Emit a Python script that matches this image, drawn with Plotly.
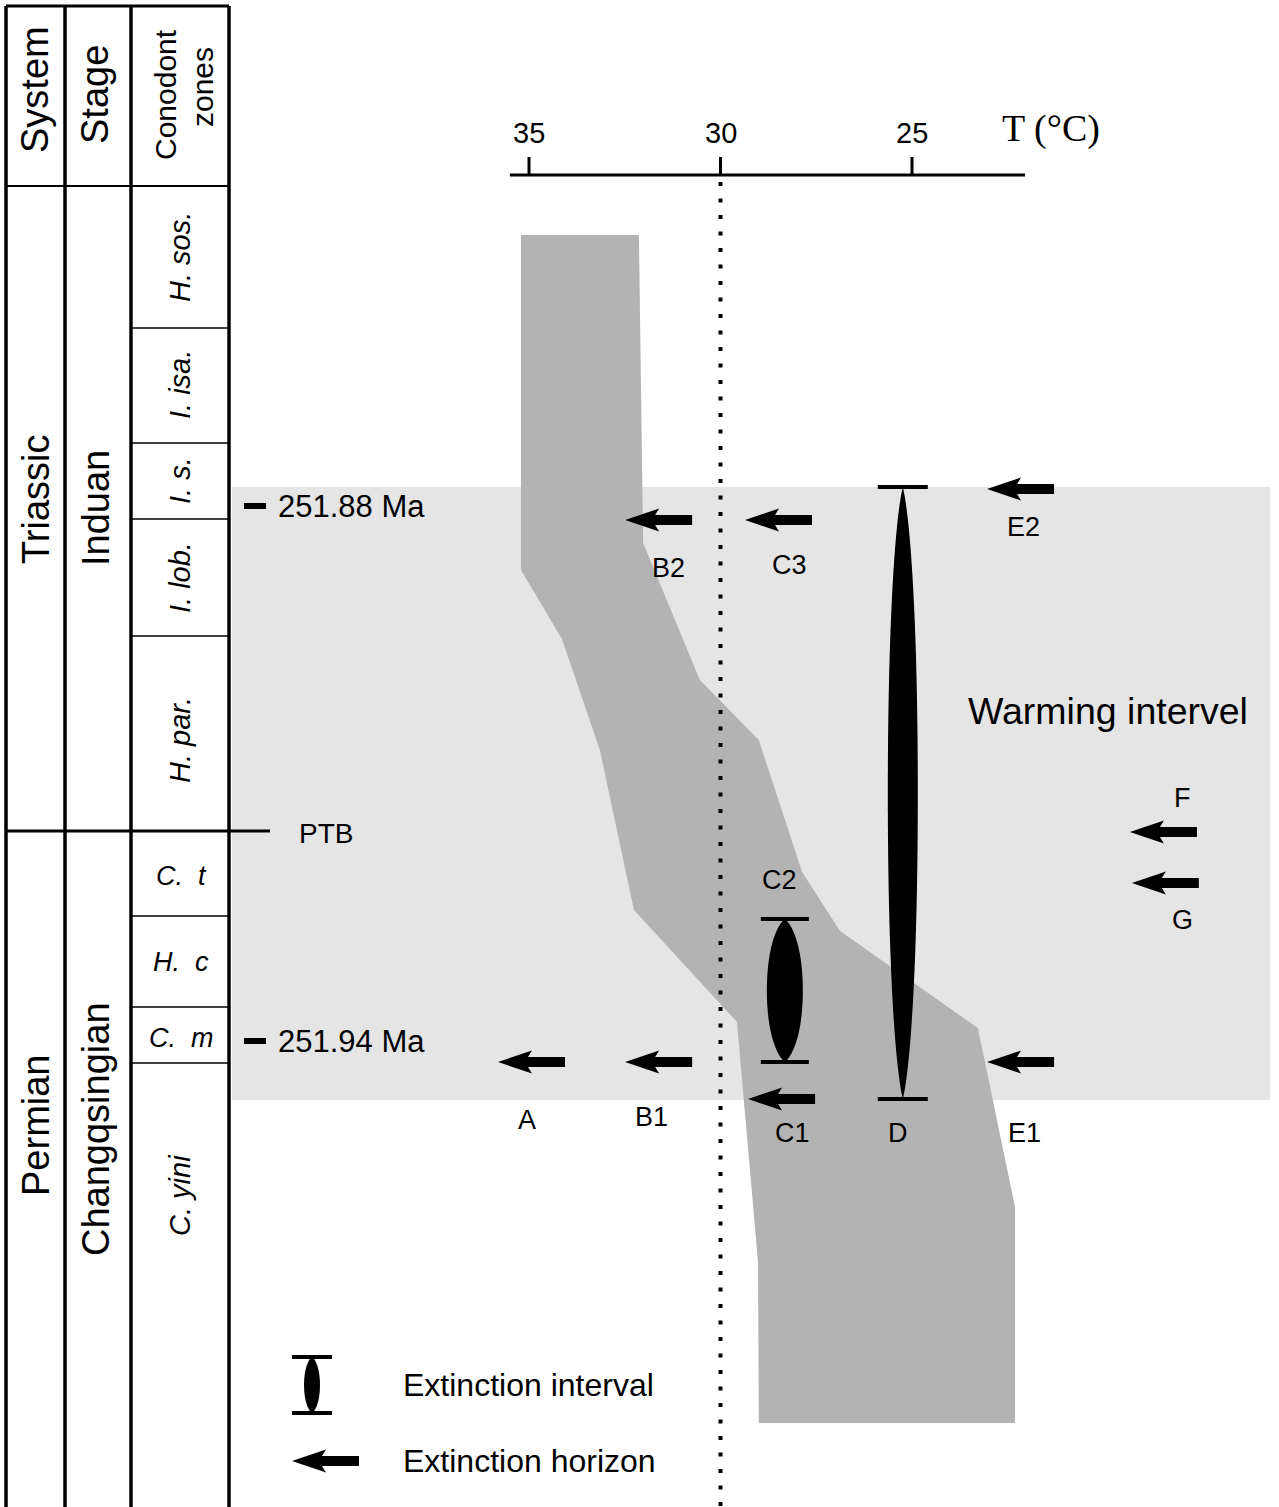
import plotly.graph_objects as go

# ---------------- DATA ----------------
# Temperature scale (deg C), drawn as a reversed axis
temp_ticks = [35, 30, 25]
temp_tick_labels = ["35", "30", "25"]
temp_axis_extent = [35.5, 22.05]
temp_axis_level = 175
reference_temp = 30  # dotted 30 degC line

# Palaeotemperature envelope outline (temperature vs stratigraphic level; level grows downward)
band_temp = [35.21, 32.13, 32.02, 30.54, 29.00, 27.87, 26.88, 25.65, 23.28, 22.31,
             22.31, 29.00, 29.02, 29.57, 32.26, 33.15, 34.14, 35.21, 35.21]
band_level = [235, 235, 543, 680, 740, 872, 931, 964, 1028, 1207,
              1423, 1423, 1262, 1022, 910, 750, 639, 570, 235]

# Extinction horizons (arrows)
horizon_names = ["A", "B1", "C1", "B2", "C3", "E2", "E1", "F", "G"]
horizon_temp = [35.81, 32.49, 29.28, 32.49, 29.36, 23.04, 23.04, 19.31, 19.26]
horizon_level = [1062, 1062, 1099, 520, 520, 489, 1062, 832, 883]
horizon_label_temp = [35.05, 31.79, 28.13, 31.37, 28.19, 22.10, 22.05, 17.95, 17.95]
horizon_label_level = [1120, 1117, 1133, 568, 565, 527, 1133, 798, 920]

# Extinction intervals (lens symbols)
interval_names = ["C2", "D"]
interval_temp = [28.32, 25.24]
interval_top = [919, 487]
interval_bottom = [1062, 1099]
interval_label_temp = [28.45, 25.37]
interval_label_level = [880, 1133]

# Warming interval
warming_top = 487
warming_bottom = 1100
warming_label = "Warming intervel"
warming_label_level = 711

# Stratigraphic column (column positions on a 0-1279 scale)
col_edges = [6, 65, 131, 229]
table_top = 6
header_bottom = 186
column_bottom = 1507
system_names = ["Triassic", "Permian"]
system_label_level = [500, 1125]
stage_names = ["Induan", "Changqsingian"]
stage_label_level = [508, 1129]
zone_names = ["H. sos.", "I. isa.", "I. s.", "I. lob.", "H. par.", "C. t", "H. c", "C. m", "C. yini"]
zone_bounds = [328, 443, 519, 636, 916, 1007, 1063]
zone_label_level = [257, 385, 481, 578, 740, 876, 962, 1038, 1195]
zone_rotated = [True, True, True, True, True, False, False, False, True]
ptb_level = 831
age_labels = ["251.88 Ma", "251.94 Ma"]
age_level = [506, 1041]

# Legend
legend_items = ["Extinction interval", "Extinction horizon"]
legend_level = [1385, 1461]

# ---------------- FIGURE ----------------
PX_PER_DEG = 38.3
T_LEFT = 30 + 720.5 / PX_PER_DEG
T_RIGHT = 30 - (1279 - 720.5) / PX_PER_DEG

SANS = "Liberation Sans, Arial, sans-serif"
SERIF = "Liberation Serif, Times New Roman, serif"
BAND_GREY = "#b3b3b3"
LIGHT_GREY = "#e5e5e5"

fig = go.Figure()

# envelope
fig.add_trace(go.Scatter(x=band_temp, y=band_level, mode="lines", fill="toself",
                         fillcolor=BAND_GREY, line=dict(width=0, color=BAND_GREY),
                         hoverinfo="skip"))
# 30 degC dotted reference
fig.add_trace(go.Scatter(x=[reference_temp, reference_temp], y=[temp_axis_level + 7, column_bottom],
                         mode="lines", line=dict(color="black", width=4, dash="4px,12.5px"),
                         hoverinfo="skip"))
# temperature axis line and ticks
ax_x = [temp_axis_extent[0], temp_axis_extent[1]]
ax_y = [temp_axis_level, temp_axis_level]
for t in temp_ticks:
    ax_x += [None, t, t]
    ax_y += [None, temp_axis_level, temp_axis_level - 18]
fig.add_trace(go.Scatter(x=ax_x, y=ax_y, mode="lines", line=dict(color="black", width=3),
                         hoverinfo="skip"))

# stratigraphic column grid (on x2)
vx, vy = [], []
for c in col_edges:
    vx += [c, c, None]
    vy += [table_top, column_bottom, None]
fig.add_trace(go.Scatter(x=vx, y=vy, xaxis="x2", mode="lines",
                         line=dict(color="black", width=3.5), hoverinfo="skip"))
fig.add_trace(go.Scatter(x=[col_edges[0], col_edges[-1], None, col_edges[0], 270],
                         y=[table_top, table_top, None, ptb_level, ptb_level],
                         xaxis="x2", mode="lines", line=dict(color="black", width=3),
                         hoverinfo="skip"))
fig.add_trace(go.Scatter(x=[col_edges[0], col_edges[-1]], y=[header_bottom, header_bottom],
                         xaxis="x2", mode="lines", line=dict(color="black", width=2),
                         hoverinfo="skip"))
zx, zy = [], []
for b in zone_bounds:
    zx += [col_edges[2], col_edges[3], None]
    zy += [b, b, None]
fig.add_trace(go.Scatter(x=zx, y=zy, xaxis="x2", mode="lines",
                         line=dict(color="black", width=1.5), hoverinfo="skip"))
# age ticks
axx, axy = [], []
for lv in age_level:
    axx += [244, 266, None]
    axy += [lv, lv, None]
fig.add_trace(go.Scatter(x=axx, y=axy, xaxis="x2", mode="lines",
                         line=dict(color="black", width=6), hoverinfo="skip"))

shapes = []
# warming interval background
shapes.append(dict(type="rect", xref="x2", yref="y", x0=232, x1=1270,
                   y0=warming_top, y1=warming_bottom, fillcolor=LIGHT_GREY,
                   line=dict(width=0), layer="below"))

ARROW = "M0,0 L34,-11.5 L30,-5 L67,-5 L67,5 L30,5 L34,11.5 Z"


def arrow(xref, xanchor, yanchor):
    return dict(type="path", xref=xref, yref="y", xsizemode="pixel", ysizemode="pixel",
                xanchor=xanchor, yanchor=yanchor, path=ARROW, fillcolor="black",
                line=dict(width=0), layer="above")


def lens(xref, xanchor, top, bot, w, bar):
    H = bot - top
    k1 = 0.05 * H
    k2 = 0.22 * H
    mid = (top + bot) / 2
    p = (f"M0,{top} C{0.5*w},{top+k1} {w},{top+k2} {w},{mid} "
         f"C{w},{bot-k2} {0.5*w},{bot-k1} 0,{bot} "
         f"C{-0.5*w},{bot-k1} {-w},{bot-k2} {-w},{mid} "
         f"C{-w},{top+k2} {-0.5*w},{top+k1} 0,{top} Z")
    out = [dict(type="path", xref=xref, yref="y", xsizemode="pixel", xanchor=xanchor,
                path=p, fillcolor="black", line=dict(width=0), layer="above")]
    for lv in (top, bot):
        out.append(dict(type="line", xref=xref, yref="y", xsizemode="pixel", xanchor=xanchor,
                        x0=-bar, x1=bar, y0=lv, y1=lv, line=dict(color="black", width=4),
                        layer="above"))
    return out


for t, lv in zip(horizon_temp, horizon_level):
    shapes.append(arrow("x", t, lv))
lens_w = [18, 15]
bar_w = [24, 25]
for t, tp, bt, w, b in zip(interval_temp, interval_top, interval_bottom, lens_w, bar_w):
    shapes += lens("x", t, tp, bt, w, b)
# legend symbols
shapes += lens("x2", 312, 1357, 1413, 8, 20)
shapes.append(arrow("x2", 292, legend_level[1]))

ann = []


def txt(x, y, s, size, xref="x", family=SANS, angle=0, xanchor="center"):
    ann.append(dict(x=x, y=y, xref=xref, yref="y", text=s, showarrow=False,
                    textangle=angle, xanchor=xanchor, yanchor="middle",
                    font=dict(family=family, size=size, color="black")))


for t, s in zip(temp_ticks, temp_tick_labels):
    txt(t, 133, s, 29)
txt(1000, 128, "T (°C)", 38, xref="x2", family=SERIF, xanchor="left")

for n, t, lv in zip(horizon_names, horizon_label_temp, horizon_label_level):
    txt(t, lv, n, 27)
for n, t, lv in zip(interval_names, interval_label_temp, interval_label_level):
    txt(t, lv, n, 27)
txt(966, warming_label_level, warming_label, 37.5, xref="x2", xanchor="left")

# column headers
txt(35, 90, "System", 38, xref="x2", angle=-90)
txt(95, 95, "Stage", 38, xref="x2", angle=-90)
txt(165, 95, "Conodont", 30, xref="x2", angle=-90)
txt(202, 87, "zones", 30, xref="x2", angle=-90)
for n, lv in zip(system_names, system_label_level):
    txt(36, lv, n, 38, xref="x2", angle=-90)
for n, lv in zip(stage_names, stage_label_level):
    txt(96, lv, n, 38, xref="x2", angle=-90)
for n, lv, r in zip(zone_names, zone_label_level, zone_rotated):
    if r:
        txt(180, lv, f"<i>{n}</i>", 29, xref="x2", angle=-90)
    else:
        txt(181, lv, f"<i>{n.replace(' ', ' &nbsp;')}</i>", 27, xref="x2")
for s, lv in zip(age_labels, age_level):
    txt(276, lv, s, 31, xref="x2", xanchor="left")
txt(297, ptb_level + 2, "PTB", 28, xref="x2", xanchor="left")
for s, lv in zip(legend_items, legend_level):
    txt(401, lv, s, 32, xref="x2", xanchor="left")

fig.update_layout(
    width=1279, height=1507,
    margin=dict(l=0, r=0, t=0, b=0),
    paper_bgcolor="white", plot_bgcolor="white",
    showlegend=False,
    xaxis=dict(range=[T_LEFT, T_RIGHT], visible=False, domain=[0, 1]),
    xaxis2=dict(range=[0, 1279], visible=False, overlaying="x"),
    yaxis=dict(range=[1507, 0], visible=False),
    shapes=shapes,
    annotations=ann,
)

fig.write_html("out.html", config={"displayModeBar": False},
               post_script="document.body.style.margin='0px';")
